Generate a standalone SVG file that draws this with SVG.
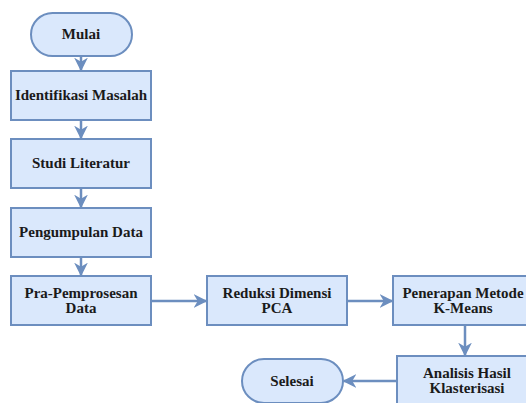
<svg xmlns="http://www.w3.org/2000/svg" width="526" height="403" viewBox="0 0 526 403">
<style>
.n{fill:#dae8fc;stroke:#6c8ebf;stroke-width:2}
.t{font-weight:bold;font-size:15px;fill:#1a1a1a;text-anchor:middle}
.c{stroke:#6c8ebf;stroke-width:2.5;fill:none}
</style>
<defs>
<marker id="a" viewBox="0 0 10 10" refX="9" refY="5" markerWidth="5.5" markerHeight="5.5" orient="auto" markerUnits="strokeWidth">
<path d="M0,0 L10,5 L0,10 L3,5 Z" fill="#6c8ebf"/>
</marker>
</defs>
<rect width="526" height="403" fill="#fff"/>
<g id="connectors">
<line class="c" x1="81" y1="56" x2="81" y2="70" marker-end="url(#a)"/>
<line class="c" x1="81" y1="121" x2="81" y2="138" marker-end="url(#a)"/>
<line class="c" x1="81" y1="189" x2="81" y2="207" marker-end="url(#a)"/>
<line class="c" x1="81" y1="258" x2="81" y2="275" marker-end="url(#a)"/>
<line class="c" x1="151" y1="301" x2="206" y2="301" marker-end="url(#a)"/>
<line class="c" x1="347" y1="301" x2="392" y2="301" marker-end="url(#a)"/>
<line class="c" x1="465" y1="326" x2="465" y2="355" marker-end="url(#a)"/>
<line class="c" x1="397" y1="381" x2="344" y2="381" marker-end="url(#a)"/>
</g>
<g font-family="Liberation Serif">
<g id="mulai">
<rect class="n" x="31" y="13" width="101" height="43" rx="21.5"/>
<text class="t" x="81" y="39">Mulai</text>
</g>
<g id="identifikasi">
<rect class="n" x="11" y="71" width="140" height="49"/>
<text class="t" x="81" y="100">Identifikasi Masalah</text>
</g>
<g id="studi">
<rect class="n" x="11" y="139" width="140" height="49"/>
<text class="t" x="81" y="168">Studi Literatur</text>
</g>
<g id="pengumpulan">
<rect class="n" x="11" y="208" width="140" height="49"/>
<text class="t" x="81" y="237">Pengumpulan Data</text>
</g>
<g id="praproses">
<rect class="n" x="11" y="276" width="140" height="49"/>
<text class="t" x="81" y="298">Pra-Pemprosesan</text>
<text class="t" x="81" y="313">Data</text>
</g>
<g id="reduksi">
<rect class="n" x="207" y="276" width="140" height="49"/>
<text class="t" x="277" y="298">Reduksi Dimensi</text>
<text class="t" x="277" y="313">PCA</text>
</g>
<g id="penerapan">
<rect class="n" x="393" y="276" width="140" height="49"/>
<text class="t" x="463" y="298">Penerapan Metode</text>
<text class="t" x="463" y="313">K-Means</text>
</g>
<g id="analisis">
<rect class="n" x="397" y="356" width="140" height="49"/>
<text class="t" x="467" y="378">Analisis Hasil</text>
<text class="t" x="467" y="393">Klasterisasi</text>
</g>
<g id="selesai">
<rect class="n" x="242" y="359" width="101" height="44" rx="22"/>
<text class="t" x="292" y="386">Selesai</text>
</g>
</g>
</svg>
